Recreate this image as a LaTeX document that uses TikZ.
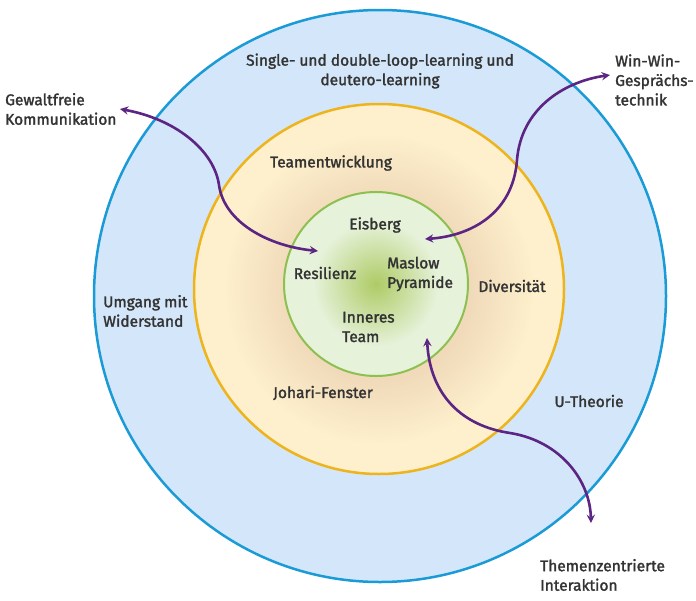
\documentclass[tikz,border=0pt]{standalone}
\usepackage{fontspec}
\setmainfont{Fira Sans}[FakeBold=1.8]
\usepackage{tikz}
\usetikzlibrary{shapes, arrows, calc, positioning}
\definecolor{outerfill}{HTML}{D4E7FA}
\definecolor{outerline}{HTML}{1A9BD7}
\definecolor{ringyellow}{HTML}{FEF0CC}
\definecolor{ringtan}{HTML}{F0DABA}
\definecolor{ringline}{HTML}{EEB41E}
\definecolor{corelight}{HTML}{E6F2DA}
\definecolor{coredark}{HTML}{AECB66}
\definecolor{coreline}{HTML}{8DC050}
\definecolor{arrowpurple}{HTML}{5C2483}
\definecolor{txtgray}{HTML}{333333}
\pgfdeclareradialshading{ringshade}{\pgfpoint{0bp}{0bp}}{color(0bp)=(ringtan); color(12.5bp)=(ringtan); color(21bp)=(ringyellow); color(50bp)=(ringyellow)}
\pgfdeclareradialshading{coreshade}{\pgfpoint{0bp}{0bp}}{color(0bp)=(coredark); color(17bp)=(corelight); color(50bp)=(corelight)}
\newcommand{\lblsize}{\fontsize{15.5}{19.5}\selectfont}

\begin{document}
\begin{tikzpicture}[x=1pt,y=-1pt,>=stealth]
\useasboundingbox (0,0) rectangle (696,600);
\fill[white] (0,0) rectangle (696,600);
\draw[line width=2.5pt, draw=outerline, fill=outerfill] (380,296) circle [radius=286pt];
\draw[line width=2.5pt, draw=ringline, shading=ringshade] (379,289) circle [radius=185pt];
\draw[line width=2pt, draw=coreline, shading=coreshade] (376,284) circle [radius=92pt];
\begin{scope}[inner sep=0pt]
\tikzstyle{every node}=[text=txtgray, font=\lblsize]
\node[align=center] (loop) at (380,71) {Single- und double-loop-learning und\\deutero-learning};
\node[anchor=west, align=left] (gfk) at (5,109) {Gewaltfreie\\Kommunikation};
\node[anchor=west, align=left] (winwin) at (615,80) {Win-Win-\\Gesprächs-\\technik};
\node (teamdev) at (331,163) {Teamentwicklung};
\node (eisberg) at (375,225) {Eisberg};
\node (resilienz) at (325,273) {Resilienz};
\node[anchor=west, align=left] (maslow) at (387,274) {Maslow\\Pyramide};
\node (diversitaet) at (512,286) {Diversität};
\node[anchor=west, align=left] (inneres) at (342,327) {Inneres\\Team};
\node[anchor=west, align=left] (umgang) at (103,311) {Umgang mit\\Widerstand};
\node (johari) at (323,393) {Johari-Fenster};
\node (utheorie) at (589,401) {U-Theorie};
\node[anchor=west, align=left] (tzi) at (540,575) {Themenzentrierte\\Interaktion};
\end{scope}
\coordinate (gfk tip) at (120,109);
\coordinate (gfk end) at (318,251);
\coordinate (winwin tip) at (610,75);
\coordinate (winwin end) at (425,239);
\coordinate (tzi tip) at (591,523);
\coordinate (tzi end) at (427,338);
\begin{scope}[line width=2.6pt, draw=arrowpurple, arrowpurple]
\draw[<->] (gfk tip) .. controls (175,119) and (214,150) .. (219,185) .. controls (224,222) and (268,246) .. (gfk end);
\draw[<->] (winwin tip) .. controls (562,82) and (521,110) .. (517,160) .. controls (513,214) and (470,236) .. (winwin end);
\draw[<->] (tzi end) .. controls (430,395) and (462,426) .. (510,433) .. controls (560,441) and (590,480) .. (tzi tip);
\end{scope}
\end{tikzpicture}
\end{document}
